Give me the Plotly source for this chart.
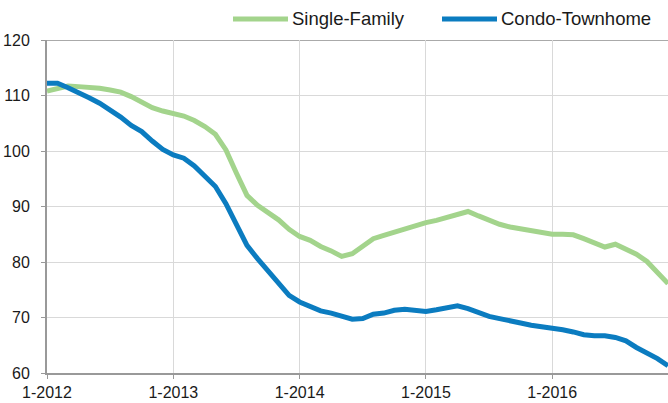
import plotly.graph_objects as go

# Monthly index, Jan 2012 .. Dec 2016
years = [2012, 2013, 2014, 2015, 2016]
month_labels = [f"{m}-{y}" for y in years for m in range(1, 13)]
tick_labels = ["1-2012", "1-2013", "1-2014", "1-2015", "1-2016"]
series_names = ["Single-Family", "Condo-Townhome"]

single_family = [
    110.8, 111.2, 111.7, 111.6, 111.5, 111.3, 111.0, 110.6, 109.8, 108.9, 107.8, 107.2,
    106.7, 106.3, 105.5, 104.4, 103.0, 100.2, 96.0, 92.0, 90.2, 89.0, 87.6, 85.9,
    84.6, 83.9, 82.8, 82.0, 81.0, 81.5, 82.9, 84.2, 84.8, 85.4, 86.1, 86.7,
    87.1, 87.5, 88.0, 88.6, 89.1, 88.3, 87.5, 86.8, 86.3, 86.0, 85.5, 85.2,
    85.0, 85.0, 84.9, 84.2, 83.4, 82.7, 83.2, 82.4, 81.4, 80.1, 78.2, 76.1,
]
condo_townhome = [
    112.2, 112.2, 111.4, 110.6, 109.6, 108.6, 107.4, 106.1, 104.6, 103.5, 101.8, 100.3,
    99.3, 98.7, 97.3, 95.6, 93.6, 90.5, 86.5, 83.0, 80.6, 78.3, 76.0, 74.0,
    72.8, 72.1, 71.2, 70.8, 70.2, 69.7, 69.8, 70.6, 70.8, 71.3, 71.5, 71.3,
    71.1, 71.4, 71.8, 72.1, 71.6, 70.8, 70.2, 69.8, 69.5, 69.0, 68.6, 68.4,
    68.2, 67.8, 67.4, 66.9, 66.7, 66.7, 66.4, 65.8, 64.6, 63.6, 62.6, 61.3,
]

x_idx = list(range(len(month_labels)))
tick_idx = [month_labels.index(t) for t in tick_labels]

GREEN = "#A3D48C"
BLUE = "#0B7CC0"
FONT = "Liberation Sans, Arial, Helvetica, sans-serif"

W, H = 668, 403
ML, MT, MR, MB = 47, 40, 0, 30
PW, PH = W - ML - MR, H - MT - MB


def px_to_paper_x(fx):
    return (fx - ML) / PW


def px_to_paper_y(fy):
    return 1 + (MT - fy) / PH


fig = go.Figure()
fig.add_trace(go.Scatter(x=x_idx, y=single_family, mode="lines", name=series_names[0],
                         line=dict(color=GREEN, width=5)))
fig.add_trace(go.Scatter(x=x_idx, y=condo_townhome, mode="lines", name=series_names[1],
                         line=dict(color=BLUE, width=5)))

fig.update_layout(
    width=W, height=H,
    margin=dict(l=ML, r=MR, t=MT, b=MB, autoexpand=False),
    plot_bgcolor="white", paper_bgcolor="white",
    font=dict(family=FONT, size=16, color="#1a1a1a"),
    showlegend=False,
    hovermode=False,
    xaxis=dict(range=[0, len(month_labels) - 1], tickvals=tick_idx, ticktext=tick_labels,
               showgrid=True, gridcolor="#d9d9d9", gridwidth=1,
               showline=True, linecolor="#999999", linewidth=2,
               ticks="outside", ticklen=4, tickcolor="#999999",
               zeroline=False, tickfont=dict(size=16), automargin=False),
    yaxis=dict(range=[60, 120], dtick=10, tick0=60,
               showgrid=True, gridcolor="#d9d9d9", gridwidth=1,
               showline=True, linecolor="#999999", linewidth=2,
               ticks="outside", ticklen=4, tickcolor="#999999",
               zeroline=False, tickfont=dict(size=16), ticklabelstandoff=8,
               automargin=False),
)
fig.add_shape(type="line", xref="paper", yref="y", x0=0, x1=1, y0=120, y1=120,
              line=dict(color="#aaaaaa", width=2), layer="below")

# Manual legend (Excel-style long line samples)
legend_items = [(series_names[0], GREEN, 233), (series_names[1], BLUE, 442)]
ly = px_to_paper_y(19)
for name, col, fx in legend_items:
    fig.add_shape(type="line", xref="paper", yref="paper",
                  x0=px_to_paper_x(fx), x1=px_to_paper_x(fx + 55), y0=ly, y1=ly,
                  line=dict(color=col, width=5))
    fig.add_annotation(xref="paper", yref="paper", x=px_to_paper_x(fx + 57), y=ly,
                       xanchor="left", yanchor="middle", showarrow=False, text=name,
                       font=dict(size=18.5, family=FONT, color="#1a1a1a"))

fig.write_html("out.html",
               config={"displayModeBar": False, "staticPlot": True},
               post_script="document.body.style.margin='0';document.body.style.overflow='hidden';")
